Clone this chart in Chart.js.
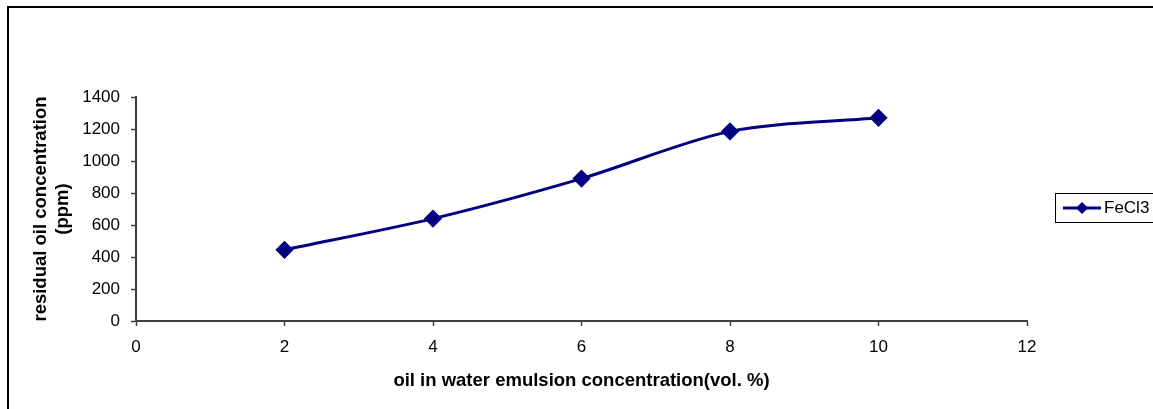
<!DOCTYPE html>
<html>
<head>
<meta charset="utf-8">
<script src="https://cdn.jsdelivr.net/npm/chart.js@4/dist/chart.umd.min.js"></script>
<style>
  html, body { margin: 0; padding: 0; background: #fff; }
  #wrap { width: 1153px; height: 409px; position: relative; }
</style>
</head>
<body>
<div id="wrap"><canvas id="chartCanvas"></canvas></div>
<script>
// data
const concentrations = [2, 4, 6, 8, 10];
const residualOil = [445, 640, 890, 1185, 1270];
const seriesName = "FeCl3";
const xTitle = "oil in water emulsion concentration(vol. %)";
const yTitle = ["residual oil concentration", "(ppm)"];

const navy = "#000080";
const axisGrey = "#404040";
const fontFamily = "'Liberation Sans', Arial, sans-serif";

// outer frame (runs off the right and bottom edge like the original)
const framePlugin = {
    id: "frame",
    afterDraw(chart) {
        const ctx = chart.ctx;
        ctx.save();
        ctx.strokeStyle = "#000";
        ctx.lineWidth = 2;
        ctx.strokeRect(8, 7, 1170, 420);
        ctx.restore();
    }
};

// Excel-style legend box on the right
const legendBox = {
    id: "legendBox",
    afterDraw(chart) {
        const ctx = chart.ctx;
        const ds = chart.data.datasets[0];
        ctx.save();
        ctx.fillStyle = "#fff";
        ctx.fillRect(1055, 193, 110, 29);
        ctx.strokeStyle = "#000";
        ctx.lineWidth = 1;
        ctx.strokeRect(1055.5, 193.5, 110, 29);
        ctx.strokeStyle = ds.borderColor;
        ctx.lineWidth = 3;
        ctx.beginPath();
        ctx.moveTo(1063, 208);
        ctx.lineTo(1101, 208);
        ctx.stroke();
        ctx.fillStyle = ds.pointBackgroundColor;
        ctx.beginPath();
        ctx.moveTo(1082, 202); ctx.lineTo(1088, 208); ctx.lineTo(1082, 214); ctx.lineTo(1076, 208);
        ctx.closePath();
        ctx.fill();
        ctx.fillStyle = "#000";
        ctx.font = "17px " + fontFamily;
        ctx.textBaseline = "middle";
        ctx.fillText(ds.label, 1104, 208);
        ctx.restore();
    }
};

const ctx = document.getElementById("chartCanvas").getContext("2d");

new Chart(ctx, {
    type: "line",
    data: {
        datasets: [{
            label: seriesName,
            data: concentrations.map((c, i) => ({ x: c, y: residualOil[i] })),
            borderColor: navy,
            backgroundColor: navy,
            pointBackgroundColor: navy,
            pointBorderColor: navy,
            borderWidth: 3,
            pointStyle: "rectRot",
            pointRadius: 7,
            pointHoverRadius: 7,
            tension: 0.3,
            fill: false
        }]
    },
    options: {
        responsive: true,
        maintainAspectRatio: false,
        animation: false,
        layout: { padding: { top: 97, right: 126, left: 0, bottom: 0 } },
        plugins: {
            legend: { display: false },
            tooltip: { enabled: false }
        },
        scales: {
            x: {
                type: "linear",
                min: 0,
                max: 12,
                ticks: {
                    stepSize: 2,
                    color: "#000",
                    padding: 11,
                    callback: v => String(v),
                    font: { family: fontFamily, size: 17 }
                },
                grid: {
                    drawOnChartArea: false,
                    drawTicks: true,
                    tickLength: 5,
                    tickWidth: 1.5,
                    tickColor: axisGrey
                },
                border: { display: true, color: axisGrey, width: 2 },
                title: {
                    display: true,
                    text: xTitle,
                    color: "#000",
                    padding: { top: 0, bottom: 17 },
                    font: { family: fontFamily, size: 18.5, weight: "bold" }
                },
                afterFit(scale) { scale.height = 88; }
            },
            y: {
                min: 0,
                max: 1400,
                ticks: {
                    stepSize: 200,
                    color: "#000",
                    padding: 11,
                    callback: v => String(v),
                    font: { family: fontFamily, size: 17 }
                },
                grid: {
                    drawOnChartArea: false,
                    drawTicks: true,
                    tickLength: 5,
                    tickWidth: 1.5,
                    tickColor: axisGrey
                },
                border: { display: true, color: axisGrey, width: 2 },
                title: {
                    display: true,
                    text: yTitle,
                    color: "#000",
                    padding: { top: 30, bottom: 0 },
                    font: { family: fontFamily, size: 18.5, weight: "bold" }
                },
                afterFit(scale) { scale.width = 136; }
            }
        }
    },
    plugins: [framePlugin, legendBox]
});
</script>
</body>
</html>
